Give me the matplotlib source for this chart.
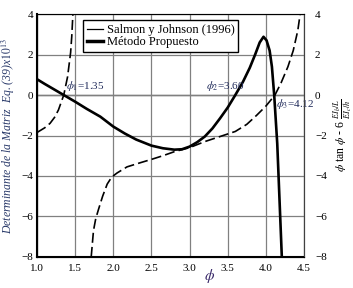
import matplotlib
matplotlib.use('Agg')
import matplotlib.pyplot as plt
from matplotlib.lines import Line2D

plt.rcParams['font.family'] = 'Liberation Serif'
plt.rcParams['mathtext.fontset'] = 'stix'
plt.rcParams['font.size'] = 8

# Metodo Propuesto (determinant x 1e13)
phi_m = [1.0, 1.1, 1.2, 1.35, 1.5, 1.65, 1.83, 2.0, 2.15, 2.3, 2.5, 2.65, 2.8,
         2.9, 3.0, 3.1, 3.2, 3.3, 3.4, 3.5, 3.6, 3.7, 3.79, 3.86, 3.92, 3.97,
         4.01, 4.05, 4.08, 4.11, 4.13, 4.15, 4.18, 4.21]
det_m = [0.78, 0.55, 0.33, 0.0, -0.33, -0.68, -1.07, -1.56, -1.9, -2.2, -2.5,
         -2.63, -2.7, -2.68, -2.55, -2.33, -2.05, -1.65, -1.15, -0.62, 0.0,
         0.65, 1.35, 2.0, 2.6, 2.88, 2.7, 2.2, 1.4, 0.0, -1.2, -2.4, -5.2, -8.0]

# Salmon y Johnson (1996), two branches
phi_s1 = [1.0, 1.1, 1.17, 1.23, 1.28, 1.35, 1.40, 1.44, 1.455, 1.47]
val_s1 = [-1.85, -1.62, -1.40, -1.1, -0.74, 0.0, 0.9, 2.1, 2.9, 4.0]
phi_s2 = [1.71, 1.74, 1.77, 1.81, 1.86, 1.92, 1.98, 2.05, 2.18, 2.35, 2.5,
          2.65, 2.8, 3.0, 3.2, 3.4, 3.6, 3.75, 3.88, 4.0, 4.12, 4.2, 4.29,
          4.36, 4.42, 4.45]
val_s2 = [-8.0, -6.7, -6.1, -5.6, -5.0, -4.4, -4.05, -3.85, -3.55, -3.35,
          -3.18, -3.0, -2.8, -2.6, -2.3, -2.05, -1.8, -1.45, -1.0, -0.55, 0.0,
          0.6, 1.4, 2.2, 3.2, 4.0]

fig = plt.figure(figsize=(3.53, 2.88), dpi=100)
ax = fig.add_axes([0.105, 0.108, 0.756, 0.843])

ax.plot(phi_s1, val_s1, color='black', lw=1.2, dashes=(6, 2.5))
ax.plot(phi_s2, val_s2, color='black', lw=1.2, dashes=(6, 2.5))
ax.plot(phi_m, det_m, color='black', lw=1.9)
ax.axhline(0, color='black', lw=0.9, zorder=1)

ax.set_xlim(1.0, 4.5)
ax.set_ylim(-8, 4)
ax.set_xticks([1.0, 1.5, 2.0, 2.5, 3.0, 3.5, 4.0, 4.5])
ax.set_yticks([-8, -6, -4, -2, 0, 2, 4])
ax.grid(True, color='#808080', lw=0.9)
ax.tick_params(axis='y', length=0, pad=3)
ax.tick_params(axis='x', length=0, pad=5)
for s in ['left', 'bottom']:
    ax.spines[s].set_linewidth(1.5)
ax.spines['top'].set_color('#808080')
ax.spines['right'].set_color('#404040')

ax2 = ax.twinx()
ax2.set_ylim(-8, 4)
ax2.set_yticks([-8, -6, -4, -2, 0, 2, 4])
ax2.tick_params(length=0, pad=8)
ax2.spines['right'].set_color('#404040')

txt_col = '#1f2a5a'
ax.text(1.38, 0.1, r'$\phi_1$=1.35', color=txt_col, fontsize=8, va='bottom')
ax.text(3.21, 0.1, r'$\phi_2$=3.60', color=txt_col, fontsize=8, va='bottom')
ax.text(4.13, -0.1, r'$\phi_3$=4.12', color=txt_col, fontsize=8, va='top')

ax.set_ylabel(r'Determinante de la Matriz  Eq. (39)x$10^{13}$', style='italic',
              color='#2a3a6a', fontsize=8.5)
ax.yaxis.set_label_coords(-0.075, 0.5)
ax2.set_ylabel(r'$\phi$ tan $\phi$ - 6 $\frac{EI_b/L}{EI_c/h}$', fontsize=8.5)
ax2.yaxis.set_label_coords(1.105, 0.5)
ax.set_xlabel(r'$\phi$', fontsize=11, color='#3a2a6a', labelpad=0)
ax.xaxis.set_label_coords(0.648, -0.04)

handles = [Line2D([], [], color='black', lw=0.9),
           Line2D([], [], color='black', lw=2.5)]
leg = ax.legend(handles, ['Salmon y Johnson (1996)', 'Método Propuesto'],
                loc='upper left', bbox_to_anchor=(0.172, 0.975), fontsize=9,
                fancybox=False, framealpha=1, edgecolor='black',
                handlelength=1.3, handletextpad=0.3, borderpad=0.3,
                labelspacing=0.0, borderaxespad=0)
leg.get_frame().set_linewidth(1.0)

fig.savefig('out.png', dpi=100)
